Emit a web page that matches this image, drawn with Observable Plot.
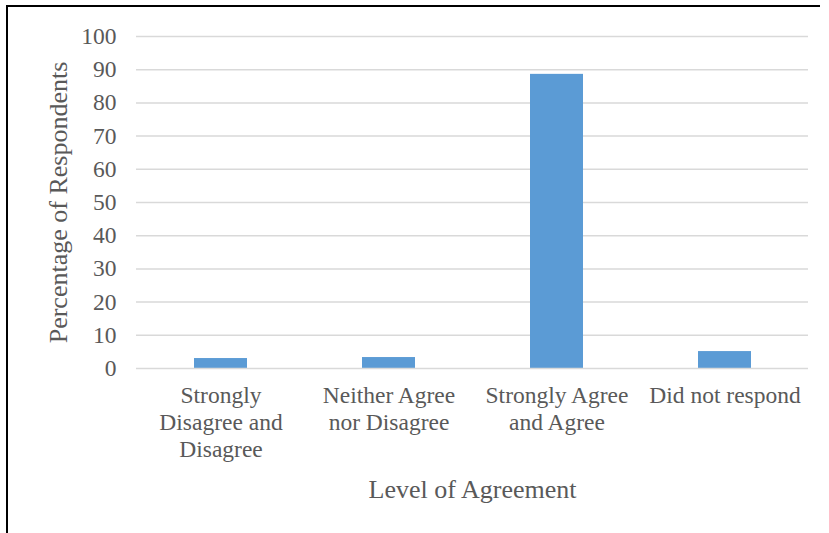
<!DOCTYPE html>
<html>
<head>
<meta charset="utf-8">
<script src="https://cdn.jsdelivr.net/npm/d3@7"></script>
<script src="https://cdn.jsdelivr.net/npm/@observablehq/plot@0.6"></script>
<style>
  html, body { margin: 0; padding: 0; background: #fff; }
  #wrap { position: relative; width: 829px; height: 533px; overflow: hidden; }
  #frame { position: absolute; left: 6px; top: 5px; width: 814px; height: 560px;
           border-top: 2px solid #000; border-left: 2px solid #000; box-sizing: border-box; }
  #chart { position: absolute; left: 0; top: 0; }
</style>
</head>
<body>
<div id="wrap"><div id="frame"></div><div id="chart"></div></div>
<script>
// Survey responses by level of agreement
const categories = [
  "Strongly\nDisagree and\nDisagree",
  "Neither Agree\nnor Disagree",
  "Strongly Agree\nand Agree",
  "Did not respond"
];
const percentages = [3.0, 3.3, 88.6, 5.1];
const yTicks = [0, 10, 20, 30, 40, 50, 60, 70, 80, 90, 100];
const yTitle = "Percentage of Respondents";
const xTitle = "Level of Agreement";

const data = categories.map((c, i) => ({category: c, value: percentages[i]}));

const textColor = "#595959";
const font = "'Liberation Serif', 'Times New Roman', serif";
const chart = Plot.plot({
  width: 829,
  height: 533,
  marginLeft: 136,
  marginRight: 21,
  marginTop: 36,
  marginBottom: 165,
  style: {fontFamily: font, fontSize: "24px", color: textColor, background: "transparent"},
  x: {domain: categories, paddingInner: 0.685, paddingOuter: 0.3425},
  y: {domain: [0, 100]},
  marks: [
    Plot.gridY(yTicks.filter(d => d > 0), {stroke: "#d9d9d9", strokeOpacity: 1, strokeWidth: 1.5}),
    Plot.barY(data, {x: "category", y: "value", fill: "#5b9bd5"}),
    Plot.ruleY([0], {stroke: "#d9d9d9", strokeWidth: 1.5}),
    Plot.axisY(yTicks, {tickSize: 0, tickPadding: 20, fontSize: 23.5, fill: textColor, label: null}),
    Plot.axisX({tickSize: 0, tickPadding: 15, fontSize: 23.5, fill: textColor, lineHeight: 1.15, label: null}),
    Plot.text([yTitle], {frameAnchor: "left", textAnchor: "middle", lineAnchor: "middle", rotate: -90, dx: -78, fontSize: 26, fill: textColor}),
    Plot.text([xTitle], {frameAnchor: "bottom", textAnchor: "middle", lineAnchor: "middle", dy: 121, fontSize: 26, fill: textColor})
  ]
});
document.getElementById("chart").appendChild(chart);
</script>
</body>
</html>
